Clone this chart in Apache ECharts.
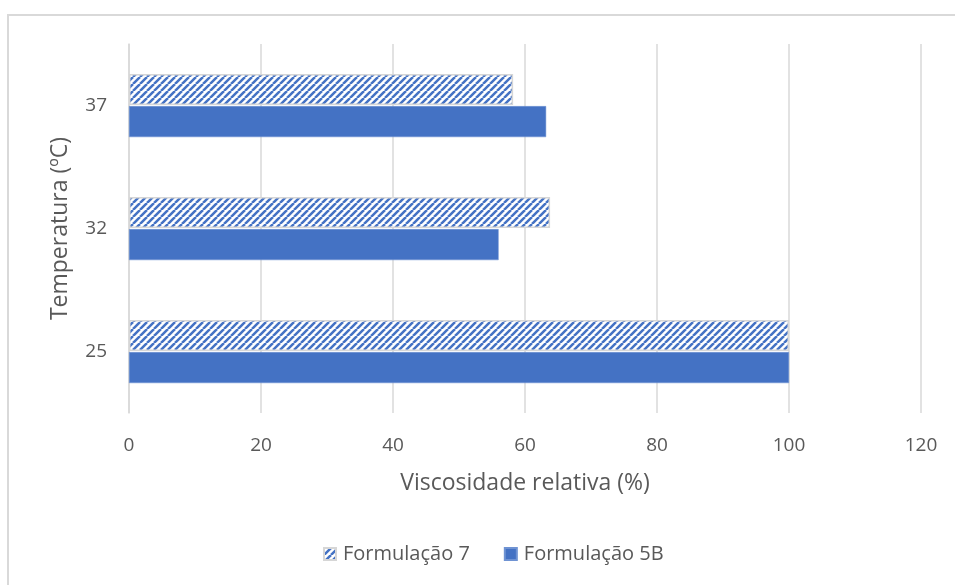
<!DOCTYPE html>
<html>
<head>
<meta charset="utf-8">
<script src="https://cdn.jsdelivr.net/npm/echarts@6/dist/echarts.min.js"></script>
<style>
  html, body { margin: 0; padding: 0; background: #fff; }
  #chart { width: 955px; height: 585px; }
</style>
</head>
<body>
<div id="chart"></div>
<script>
// Temperature categories (bottom to top) and relative viscosity per formulation
const temperatures = ['25', '32', '37'];
const formulacao7 = [100, 63.8, 58.2];
const formulacao5B = [100, 56, 63.2];
const xTicks = { min: 0, max: 120, interval: 20 };

const BLUE = '#4472C4';
const TEXT = '#595959';
const FONT = '"Open Sans", "Noto Sans", sans-serif';

// Diagonal "/" stripe fill for the hatched series
function makeHatch() {
  const size = 7;
  const c = document.createElement('canvas');
  c.width = size; c.height = size;
  const ctx = c.getContext('2d');
  ctx.fillStyle = '#ffffff';
  ctx.fillRect(0, 0, size, size);
  ctx.strokeStyle = BLUE;
  ctx.lineWidth = 2.5;
  ctx.beginPath();
  for (let k = -1; k <= 1; k++) {
    ctx.moveTo(k * size, size);
    ctx.lineTo(k * size + size, 0);
  }
  ctx.stroke();
  return c;
}
const hatch = { image: makeHatch(), repeat: 'repeat' };

const chart = echarts.init(document.getElementById('chart'), null, { renderer: 'canvas' });
chart.setOption({
  backgroundColor: '#ffffff',
  animation: false,
  graphic: [{
    type: 'rect',
    shape: { x: 8, y: 15, width: 1000, height: 700 },
    style: { fill: 'none', stroke: '#d9d9d9', lineWidth: 2 },
    silent: true
  }],
  grid: { left: 129, right: 34, top: 44, bottom: 172, containLabel: false },
  legend: {
    data: ['Formulação 7', 'Formulação 5B'],
    top: 539,
    left: 318,
    itemWidth: 12,
    itemHeight: 12,
    itemGap: 34,
    icon: 'rect',
    textStyle: { color: TEXT, fontSize: 20, fontFamily: FONT, padding: [0, 0, 0, 2] }
  },
  xAxis: {
    type: 'value',
    min: xTicks.min, max: xTicks.max, interval: xTicks.interval,
    name: 'Viscosidade relativa (%)',
    nameLocation: 'middle',
    nameGap: 59,
    nameTextStyle: { color: TEXT, fontSize: 23, fontFamily: FONT },
    axisLine: { show: false },
    axisTick: { show: false },
    axisLabel: { color: TEXT, fontSize: 19, fontFamily: FONT, margin: 23 },
    splitLine: { lineStyle: { color: '#d9d9d9', width: 1.5 } }
  },
  yAxis: {
    type: 'category',
    data: temperatures,
    name: 'Temperatura (ºC)',
    nameLocation: 'middle',
    nameGap: 57,
    nameRotate: 90,
    nameTextStyle: { color: TEXT, fontSize: 23, fontFamily: FONT },
    axisLine: { show: true, lineStyle: { color: '#d9d9d9', width: 1.5 } },
    axisTick: { show: false },
    axisLabel: { color: TEXT, fontSize: 19, fontFamily: FONT, margin: 22 }
  },
  series: [
    {
      name: 'Formulação 7',
      type: 'bar',
      data: formulacao7,
      barWidth: 31,
      barGap: '4%',
      itemStyle: { color: hatch, borderColor: '#d6d6d6', borderWidth: 1.5 }
    },
    {
      name: 'Formulação 5B',
      type: 'bar',
      data: formulacao5B,
      barWidth: 31,
      barGap: '4%',
      itemStyle: { color: BLUE, borderColor: '#6f93d3', borderWidth: 0.5 }
    }
  ]
});
</script>
</body>
</html>
